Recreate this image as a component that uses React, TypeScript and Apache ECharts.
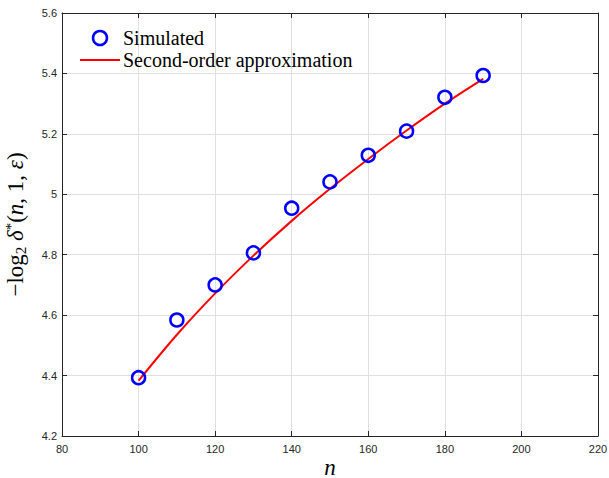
import React, { useEffect, useRef } from "react";
import * as echarts from "echarts";

const nValues = [100, 110, 120, 130, 140, 150, 160, 170, 180, 190];
const simulated = [4.393, 4.584, 4.700, 4.806, 4.954, 5.041, 5.129, 5.209, 5.321, 5.393];
const approxN = [100, 110, 120, 130, 140, 150, 160, 170, 180, 190];
const approximation = [4.383, 4.535, 4.672, 4.797, 4.912, 5.018, 5.117, 5.211, 5.300, 5.382];

const xMin = 80, xMax = 220, xStep = 20;
const yMin = 4.2, yMax = 5.6, yStep = 0.2;

export default function App() {
  const ref = useRef<HTMLDivElement>(null);
  useEffect(() => {
    if (!ref.current) return;
    const chart = echarts.init(ref.current, undefined, { renderer: "svg" });
    const axisColor = "#262626";
    const tickFont = { color: axisColor, fontSize: 11, fontFamily: "Liberation Sans, Arial, sans-serif" };
    const baseX = {
      type: "value" as const,
      min: xMin,
      max: xMax,
      interval: xStep,
      axisLine: { show: true, onZero: false, lineStyle: { color: axisColor, width: 1 } },
      axisTick: { show: true, inside: true, length: 5, lineStyle: { color: axisColor } },
    };
    const baseY = {
      type: "value" as const,
      min: yMin,
      max: yMax,
      interval: yStep,
      axisLine: { show: true, onZero: false, lineStyle: { color: axisColor, width: 1 } },
      axisTick: { show: true, inside: true, length: 5, lineStyle: { color: axisColor } },
    };
    chart.setOption({
      animation: false,
      backgroundColor: "#ffffff",
      grid: { left: 62, right: 11, top: 13, bottom: 42, containLabel: false, outerBoundsMode: "none" },
      legend: {
        orient: "vertical",
        left: 75,
        top: 23,
        itemWidth: 40,
        itemHeight: 14,
        itemGap: 2,
        textStyle: { fontFamily: "Liberation Serif, Times New Roman, serif", fontSize: 20, color: "#000", padding: [0, 0, 0, -2] },
        data: [
          {
            name: "Simulated",
            icon: "circle",
            itemStyle: { color: "rgba(255,255,255,0)", borderColor: "#0000ff", borderWidth: 2.5 },
          },
          {
            name: "Second-order approximation",
            icon: "path://M0,0 M40,14 M0,6 L40,6 L40,8 L0,8 Z",
            itemStyle: { color: "#ff0000", borderWidth: 0 },
          },
        ],
      },
      xAxis: [
        {
          ...baseX,
          position: "bottom",
          name: "n",
          nameLocation: "middle",
          nameGap: 31,
          nameMoveOverlap: false,
          nameTextStyle: {
            fontFamily: "Liberation Serif, serif",
            fontStyle: "italic",
            fontSize: 23,
            lineHeight: 16,
            verticalAlign: "middle",
            color: "#000",
          },
          axisLabel: { ...tickFont, margin: 7 },
          splitLine: { show: true, lineStyle: { color: "#e0e0e0", width: 1 } },
        },
        {
          ...baseX,
          position: "top",
          axisLabel: { show: false },
          splitLine: { show: false },
        },
      ],
      yAxis: [
        {
          ...baseY,
          position: "left",
          name: "{r|−log}{sub|2}{r| }{i|δ}{sup|*}{r|(}{i|n}{r|, 1, }{i|ε}{r|)}",
          nameLocation: "middle",
          nameGap: 34,
          nameRotate: 90,
          nameTextStyle: {
            color: "#000",
            rich: {
              r: { fontFamily: "Liberation Serif, serif", fontSize: 23, color: "#000" },
              i: { fontFamily: "Liberation Serif, serif", fontStyle: "italic", fontSize: 23, color: "#000" },
              sub: { fontFamily: "Liberation Serif, serif", fontSize: 15, color: "#000", padding: [10, 0, 0, 0] },
              sup: { fontFamily: "Liberation Serif, serif", fontSize: 15, color: "#000", padding: [0, 0, 10, 0] },
            },
          },
          axisLabel: { ...tickFont, margin: 5, formatter: (v: number) => String(Math.round(v * 10) / 10) },
          splitLine: { show: true, lineStyle: { color: "#e0e0e0", width: 1 } },
        },
        {
          ...baseY,
          position: "right",
          axisLabel: { show: false },
          splitLine: { show: false },
        },
      ],
      series: [
        {
          name: "Simulated",
          type: "scatter",
          symbol: "circle",
          symbolSize: 13,
          itemStyle: { color: "rgba(255,255,255,0)", borderColor: "#0000ff", borderWidth: 2.5, opacity: 1 },
          data: nValues.map((n, i) => [n, simulated[i]]),
          z: 3,
        },
        {
          name: "Second-order approximation",
          type: "line",
          symbol: "none",
          smooth: 0.3,
          lineStyle: { color: "#ff0000", width: 2 },
          itemStyle: { color: "#ff0000" },
          data: approxN.map((n, i) => [n, approximation[i]]),
          z: 2,
        },
      ],
    });
    return () => chart.dispose();
  }, []);
  return <div ref={ref} style={{ width: 609, height: 478, position: "absolute", left: 0, top: 0 }} />;
}
